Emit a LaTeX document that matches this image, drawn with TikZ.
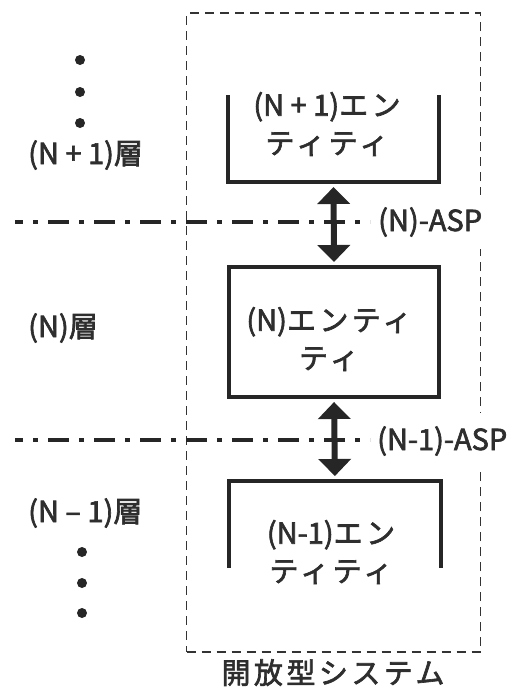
\documentclass[tikz,border=0pt]{standalone}
\usepackage{fontspec}
\setmainfont{Noto Sans CJK JP}[FakeBold=2.2]
\newfontfamily\jpf{Noto Sans CJK JP}[FakeBold=2.2, LetterSpace=12]
\usetikzlibrary{arrows.meta}
\tikzset{
  lbl/.style={font=\fontsize{29}{38}\selectfont, text=black!82, inner sep=0pt},
  enttext/.style={lbl, align=center},
  entity/.style={line width=4.5pt, black!85, line join=miter},
  dotn/.style={circle, fill=black!85, minimum size=10pt, inner sep=0pt},
  sysbox/.style={draw=black!80, line width=1.6pt, dash pattern=on 9pt off 6pt},
  sep/.style={line width=4pt, black!85, dash pattern=on 21pt off 10pt on 5pt off 10pt},
  dblarrow/.style={line width=6pt, black!85, {Triangle[width=32pt,length=17pt]}-{Triangle[width=32pt,length=17pt]}, shorten <=5pt, shorten >=5pt},
  asplabel/.style={lbl, fill=white, anchor=west, inner xsep=3pt},
}
\begin{document}
\begin{tikzpicture}[x=1pt,y=-1pt]
\useasboundingbox (0,0) rectangle (529,691);
% open system box
\node[sysbox, minimum width=294pt, minimum height=639pt, inner sep=0pt] (sys) at (333.5,332.5) {};
\node[lbl, anchor=north] (systitle) at (333,659) {\jpf 開放型システム};
% separator lines
\coordinate (s1a) at (15,222); \coordinate (s1b) at (370,222);
\coordinate (s2a) at (15,440); \coordinate (s2b) at (370,440);
\draw[sep, dash phase=13pt] (s1a) -- (s1b);
\draw[sep, dash phase=13pt] (s2a) -- (s2b);
\node[asplabel, minimum height=54pt] (asp1) at (375,222) {(N)-ASP};
\node[asplabel, minimum height=57pt] (asp2) at (374,441) {(N-1)-ASP};
% entities
\node[minimum width=211pt, minimum height=87pt, inner sep=0pt, outer sep=0pt] (ent1) at (333.5,138.5) {};
\draw[entity] (ent1.north west) -- (ent1.south west) -- (ent1.south east) -- (ent1.north east);
\node[enttext] (t1) at (327,124) {(N + 1){\jpf エン}\\{\jpf ティティ}};
\node[draw, entity, minimum width=210pt, minimum height=130pt, inner sep=0pt, outer sep=0pt] (ent2) at (334,332) {};
\node[enttext] (t2) at (329,339) {(N){\jpf エンティ}\\{\jpf ティ}};
\node[minimum width=212pt, minimum height=87pt, inner sep=0pt, outer sep=0pt] (ent3) at (335,524.5) {};
\draw[entity] (ent3.south west) -- (ent3.north west) -- (ent3.north east) -- (ent3.south east);
\node[enttext] (t3) at (331,552) {(N-1){\jpf エン}\\{\jpf ティティ}};
% arrows
\draw[dblarrow] (ent1.south) -- (ent2.north);
\draw[dblarrow] (ent2.south) -- (ent3.north);
% layer labels
\node[dotn] (d1) at (80,60) {};
\node[dotn] (d2) at (80,92) {};
\node[dotn] (d3) at (80,123) {};
\node[lbl, anchor=west] (l1) at (28,155) {(N + 1)\jpf 層};
\node[lbl, anchor=west] (l2) at (28,328) {(N)\jpf 層};
\node[lbl, anchor=west] (l3) at (28,513) {(N – 1)\jpf 層};
\node[dotn] (d4) at (82,552) {};
\node[dotn] (d5) at (82,583) {};
\node[dotn] (d6) at (82,613) {};
\end{tikzpicture}
\end{document}
